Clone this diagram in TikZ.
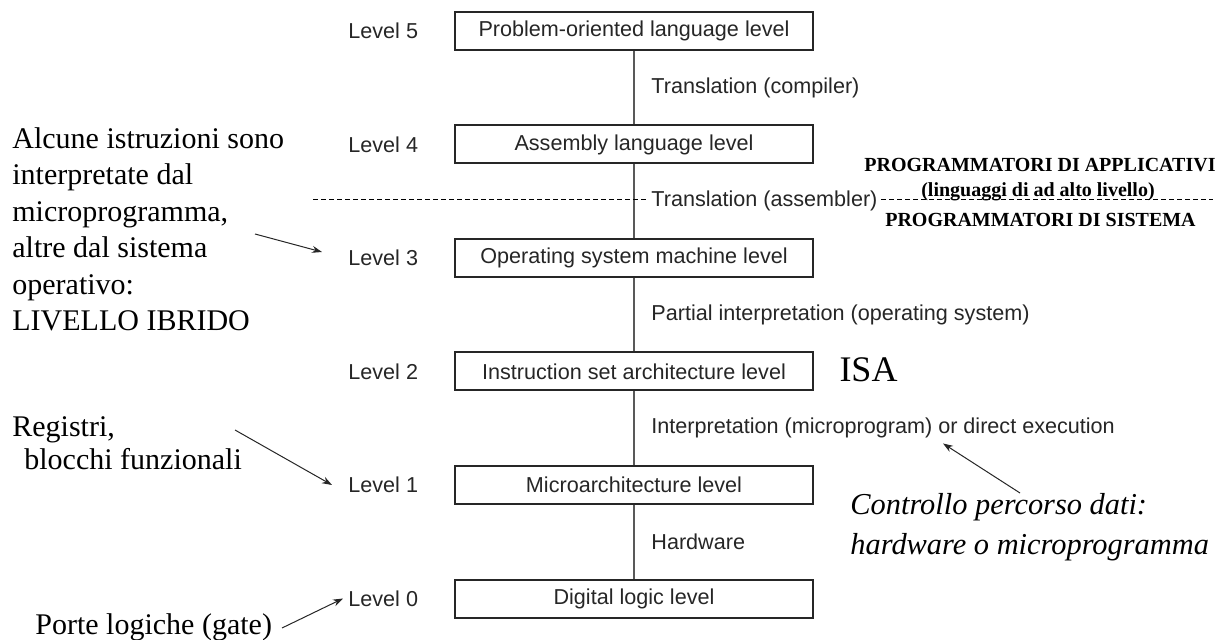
\documentclass[tikz,border=0pt]{standalone}
\usepackage{fontspec}
\setmainfont{Liberation Sans}
\newfontfamily\timesfont{Liberation Serif}
\usepackage{tikz}
\usetikzlibrary{arrows.meta,positioning}

\tikzset{
  levelbox/.style={draw=black!85, line width=1pt, minimum width=179pt, minimum height=19pt,
    inner sep=0pt, text=black!85, font=\fontsize{10.8}{13}\selectfont},
  levellab/.style={anchor=west, inner sep=0pt, text=black!85, font=\fontsize{10.8}{13}\selectfont},
  translab/.style={anchor=west, inner xsep=1.5pt, inner ysep=0pt, fill=white, text=black!85,
    font=\fontsize{10.8}{13}\selectfont},
  spine/.style={draw=black!65, line width=1pt},
  sepline/.style={draw=black, line width=0.5pt, dash pattern=on 2.5pt off 1.5pt},
  note/.style={anchor=north west, inner sep=0pt, align=left},
  prog/.style={inner sep=0pt, font=\timesfont\bfseries\fontsize{10}{12}\selectfont},
  pointer/.style={-{Stealth[length=5pt,width=3.5pt]}, line width=0.5pt, black!85}
}

\begin{document}
\begin{tikzpicture}[x=0.5pt, y=-0.5pt]
\useasboundingbox (0,0) rectangle (1230,640);

% livelli
\node[levelbox] (l5) at (634,31)    {Problem-oriented language level};
\node[levelbox] (l4) at (634,144.5) {Assembly language level};
\node[levelbox] (l3) at (634,258)   {Operating system machine level};
\node[levelbox] (l2) at (634,371.5) {Instruction set architecture level};
\node[levelbox] (l1) at (634,485)   {Microarchitecture level};
\node[levelbox] (l0) at (634,598.5) {Digital logic level};

\node[levellab] (lab5) at (348,31)    {Level 5};
\node[levellab] (lab4) at (348,144.5) {Level 4};
\node[levellab] (lab3) at (348,258)   {Level 3};
\node[levellab] (lab2) at (348,371.5) {Level 2};
\node[levellab] (lab1) at (348,485)   {Level 1};
\node[levellab] (lab0) at (348,598.5) {Level 0};

\draw[spine] (l5) -- (l4);
\draw[spine] (l4) -- (l3);
\draw[spine] (l3) -- (l2);
\draw[spine] (l2) -- (l1);
\draw[spine] (l1) -- (l0);

% linea tratteggiata
\coordinate (sepl) at (313,200);
\coordinate (sepr) at (1213,200);
\draw[sepline] (sepl) -- (sepr);

\node[translab] (t54) at (648,88)    {Translation (compiler)};
\node[translab] (t43) at (648,201)   {Translation (assembler)};
\node[translab] (t32) at (648,314.5) {Partial interpretation (operating system)};
\node[translab] (t21) at (648,428)   {Interpretation (microprogram) or direct execution};
\node[translab] (t10) at (648,541.5) {Hardware};

\node[prog] (app) at (1040,165) {PROGRAMMATORI DI APPLICATIVI};
\node[prog] (ling) at (1038,192) {(linguaggi di ad alto livello)};
\node[prog] (sys) at (1040.5,220) {PROGRAMMATORI DI SISTEMA};

\node[inner sep=0pt, font=\timesfont\fontsize{18}{20}\selectfont] (isa) at (868.5,370) {ISA};

% note
\node[note, font=\timesfont\fontsize{15}{18.25}\selectfont] (ibrido) at (12,127)
  {Alcune istruzioni sono\\interpretate dal\\microprogramma,\\altre dal sistema\\operativo:\\LIVELLO IBRIDO};
\node[note, font=\timesfont\fontsize{15}{16.5}\selectfont] (reg) at (12,416)
  {Registri,\\\hspace*{6pt}blocchi funzionali};
\node[anchor=west, inner sep=0pt, font=\timesfont\fontsize{15}{18}\selectfont] (porte) at (35,627)
  {Porte logiche (gate)};
\node[note, font=\timesfont\itshape\fontsize{15.2}{20}\selectfont] (ctrl) at (850,493)
  {Controllo percorso dati:\\hardware o microprogramma};

\coordinate (ibtail) at (255,234);
\coordinate (regtail) at (235,430);
\coordinate (portetail) at (282,628);
\draw[pointer] (ibtail) -- ([xshift=-13pt,yshift=3pt]lab3.west);
\draw[pointer] (regtail) -- ([xshift=-8pt]lab1.west);
\draw[pointer] (portetail) -- ([xshift=-2.5pt]lab0.west);
\draw[pointer] ([xshift=85pt]ctrl.north west) -- ([xshift=147.5pt,yshift=-2.5pt]t21.south west);
\end{tikzpicture}
\end{document}
